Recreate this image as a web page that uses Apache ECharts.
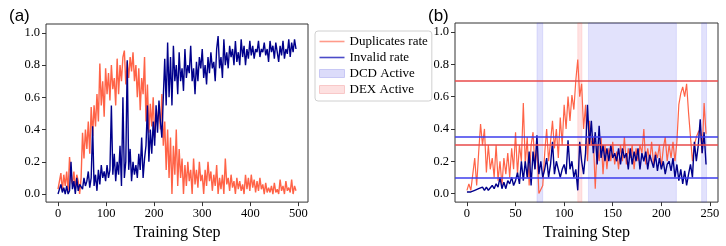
<!DOCTYPE html>
<html>
<head>
<meta charset="utf-8">
<script src="https://cdn.jsdelivr.net/npm/echarts@6/dist/echarts.min.js"></script>
<style>
  html, body { margin: 0; padding: 0; background: #fff; }
  #chart { width: 726px; height: 246px; }
</style>
</head>
<body>
<div id="chart"></div>
<script>
// panel (a): one value every 3 training steps
const stepA = 3
const dupA = [
  0.03, 0.03, 0.13, 0.02, 0.12, 0.05, 0.14, 0.02, 0.23, 0.10, 0.06, 0.14, 0.03, 0.12, 0.08, 0.00, 0.10,
  0.38, 0.22, 0.40, 0.28, 0.45, 0.25, 0.54, 0.36, 0.55, 0.42, 0.62, 0.45, 0.81, 0.55, 0.70, 0.48, 0.78,
  0.62, 0.75, 0.58, 0.80, 0.65, 0.72, 0.55, 0.84, 0.62, 0.80, 0.70, 0.85, 0.89, 0.68, 0.82, 0.72, 0.85,
  0.76, 0.88, 0.70, 0.80, 0.60, 0.78, 0.52, 0.72, 0.62, 0.85, 0.45, 0.68, 0.38, 0.56, 0.42, 0.60, 0.35,
  0.50, 0.45, 0.55, 0.40, 0.62, 0.30, 0.45, 0.15, 0.40, 0.10, 0.35, 0.00, 0.30, 0.12, 0.40, 0.05, 0.28,
  0.10, 0.22, 0.00, 0.18, 0.05, 0.20, 0.08, 0.15, 0.00, 0.22, 0.06, 0.15, 0.04, 0.20, 0.08, 0.12, 0.00,
  0.15, 0.05, 0.20, 0.08, 0.14, 0.02, 0.12, 0.05, 0.18, 0.00, 0.10, 0.03, 0.12, 0.00, 0.22, 0.06, 0.10,
  0.02, 0.12, 0.04, 0.08, 0.00, 0.10, 0.03, 0.08, 0.02, 0.06, 0.00, 0.12, 0.03, 0.10, 0.02, 0.12, 0.04,
  0.09, 0.01, 0.08, 0.02, 0.10, 0.03, 0.06, 0.00, 0.07, 0.01, 0.04, 0.01, 0.05, 0.00, 0.07, 0.01, 0.03,
  0.00, 0.09, 0.02, 0.05, 0.00, 0.08, 0.02, 0.04, 0.01, 0.09, 0.00, 0.05, 0.02
]
const invA = [
  0.00, 0.00, 0.06, 0.01, 0.04, 0.00, 0.05, 0.00, 0.02, 0.20, 0.03, 0.08, 0.00, 0.10, 0.02, 0.06, 0.05,
  0.03, 0.10, 0.05, 0.08, 0.14, 0.04, 0.10, 0.42, 0.05, 0.12, 0.02, 0.15, 0.06, 0.18, 0.10, 0.14, 0.08,
  0.18, 0.10, 0.15, 0.55, 0.12, 0.25, 0.08, 0.20, 0.12, 0.30, 0.05, 0.60, 0.10, 0.20, 0.83, 0.15, 0.28,
  0.08, 0.20, 0.12, 0.18, 0.10, 0.25, 0.15, 0.35, 0.10, 0.22, 0.30, 0.55, 0.20, 0.40, 0.25, 0.45, 0.30,
  0.55, 0.38, 0.58, 0.45, 0.35, 0.60, 0.84, 0.55, 0.94, 0.60, 0.85, 0.55, 0.92, 0.70, 0.80, 0.62, 0.88,
  0.70, 0.78, 0.64, 0.90, 0.72, 0.80, 0.75, 0.92, 0.70, 0.78, 0.62, 0.82, 0.70, 0.85, 0.78, 0.90, 0.72,
  0.80, 0.68, 0.85, 0.75, 0.88, 0.78, 0.82, 0.70, 0.90, 0.98, 0.78, 0.85, 0.72, 0.96, 0.80, 0.88, 0.78,
  0.92, 0.85, 0.90, 0.80, 0.95, 0.82, 0.88, 0.80, 0.96, 0.85, 0.92, 0.80, 0.90, 0.84, 0.95, 0.86, 0.92,
  0.84, 0.90, 0.88, 0.95, 0.85, 0.90, 0.88, 0.94, 0.86, 0.90, 0.82, 0.95, 0.88, 0.92, 0.84, 0.94, 0.88,
  0.82, 0.92, 0.86, 0.95, 0.84, 0.90, 0.87, 0.96, 0.85, 0.94, 0.88, 0.96, 0.90
]

// panel (b): one value every 2 training steps
const stepB = 2
const dupB = [
  0.02, 0.06, 0.02, 0.03, 0.22, 0.05, 0.25, 0.43, 0.30, 0.40, 0.13, 0.30, 0.15, 0.22, 0.10, 0.30,
  0.08, 0.20, 0.05, 0.22, 0.12, 0.25, 0.10, 0.28, 0.15, 0.38, 0.12, 0.30, 0.20, 0.56, 0.18, 0.35,
  0.05, 0.30, 0.38, 0.15, 0.30, 0.00, 0.00, 0.05, 0.25, 0.40, 0.20, 0.32, 0.45, 0.28, 0.40, 0.22,
  0.47, 0.30, 0.55, 0.40, 0.60, 0.45, 0.61, 0.52, 0.70, 0.83, 0.60, 0.68, 0.40, 0.55, 0.20, 0.45,
  0.30, 0.35, 0.03, 0.30, 0.20, 0.35, 0.12, 0.30, 0.15, 0.28, 0.20, 0.32, 0.18, 0.26, 0.15, 0.30,
  0.20, 0.35, 0.18, 0.28, 0.22, 0.30, 0.15, 0.28, 0.20, 0.30, 0.25, 0.40, 0.18, 0.28, 0.20, 0.32,
  0.18, 0.26, 0.22, 0.30, 0.16, 0.28, 0.35, 0.20, 0.30, 0.22, 0.32, 0.20, 0.32, 0.55, 0.62, 0.66,
  0.60, 0.68, 0.50, 0.35, 0.20, 0.30, 0.35, 0.38, 0.40, 0.25, 0.56, 0.37
]
const invB = [
  0.01, 0.00, 0.01, 0.00, 0.02, 0.01, 0.03, 0.02, 0.04, 0.02, 0.04, 0.02, 0.03, 0.05, 0.03, 0.06,
  0.04, 0.10, 0.03, 0.07, 0.03, 0.08, 0.06, 0.10, 0.05, 0.08, 0.13, 0.06, 0.20, 0.08, 0.20, 0.10,
  0.26, 0.05, 0.26, 0.15, 0.36, 0.12, 0.20, 0.10, 0.15, 0.22, 0.10, 0.18, 0.32, 0.12, 0.20, 0.15,
  0.10, 0.15, 0.18, 0.12, 0.33, 0.15, 0.20, 0.10, 0.15, 0.02, 0.32, 0.20, 0.12, 0.25, 0.55, 0.30,
  0.45, 0.25, 0.38, 0.18, 0.42, 0.22, 0.30, 0.20, 0.28, 0.20, 0.30, 0.22, 0.25, 0.20, 0.28, 0.18,
  0.28, 0.22, 0.25, 0.15, 0.28, 0.18, 0.26, 0.20, 0.28, 0.15, 0.25, 0.20, 0.26, 0.15, 0.24, 0.20,
  0.16, 0.24, 0.14, 0.22, 0.15, 0.20, 0.12, 0.18, 0.20, 0.14, 0.22, 0.10, 0.18, 0.08, 0.15, 0.06,
  0.14, 0.05, 0.12, 0.18, 0.10, 0.32, 0.20, 0.30, 0.46, 0.25, 0.38, 0.18
]

// switch-on periods and thresholds in panel (b)
const dcdSpans = [[72, 78], [125, 215.5], [241.5, 246.5]]
const dexSpans = [[114, 118.3]]
const dupThresholds = [0.7, 0.3]
const invThresholds = [0.35, 0.1]

const xTicksA = [0, 100, 200, 300, 400, 500]
const xTicksB = [0, 50, 100, 150, 200, 250]
const yTicks = [0, 0.2, 0.4, 0.6, 0.8, 1.0]

const DUP_COLOR = '#ff6347'
const INV_COLOR = '#00008b'
const SERIF = '"Liberation Serif", "DejaVu Serif", serif'

function toPairs(vals, step) {
  return vals.map((v, i) => [i * step, v])
}

function xAxis(gridIndex, min, max, ticks) {
  return {
    type: 'value', gridIndex, min, max,
    name: 'Training Step', nameLocation: 'middle', nameGap: 21,
    nameTextStyle: { fontFamily: SERIF, fontSize: 16, color: '#000' },
    axisLine: { show: false, onZero: false },
    axisTick: { show: true, inside: false, customValues: ticks, length: 4, lineStyle: { color: '#333' } },
    axisLabel: { customValues: ticks, fontFamily: SERIF, fontSize: 12.5, color: '#000', margin: 5 },
    splitLine: { show: false }
  }
}

function yAxis(gridIndex, min, max) {
  return {
    type: 'value', gridIndex, min, max,
    axisLine: { show: false, onZero: false },
    axisTick: { show: true, inside: false, customValues: yTicks, length: 4, lineStyle: { color: '#333' } },
    axisLabel: {
      customValues: yTicks, fontFamily: SERIF, fontSize: 12.5, color: '#000', margin: 6,
      formatter: v => v.toFixed(1)
    },
    splitLine: { show: false }
  }
}

function spanArea(spans) {
  return spans.map(s => [{ xAxis: s[0] }, { xAxis: s[1] }])
}

function hLines(vals) {
  return vals.map(v => ({ yAxis: v }))
}

const chart = echarts.init(document.getElementById('chart'), null, { renderer: 'canvas' })

const option = {
  animation: false,
  title: [
    { text: '(a)', left: 4, top: 3, textStyle: { fontFamily: 'Liberation Sans', fontSize: 17, fontWeight: 'normal', color: '#000' } },
    { text: '(b)', left: 423, top: 3, textStyle: { fontFamily: 'Liberation Sans', fontSize: 17, fontWeight: 'normal', color: '#000' } }
  ],
  grid: [
    { left: 46, top: 24, width: 262, height: 183, show: true, borderColor: '#333', borderWidth: 1, backgroundColor: 'transparent' },
    { left: 455, top: 23, width: 263, height: 183, show: true, borderColor: '#333', borderWidth: 1, backgroundColor: 'transparent' }
  ],
  xAxis: [
    xAxis(0, -25, 520, xTicksA),
    xAxis(1, -12.3, 258.3, xTicksB)
  ],
  yAxis: [
    yAxis(0, -0.05, 1.055),
    yAxis(1, -0.053, 1.056)
  ],
  legend: {
    orient: 'vertical', left: 315, top: 31,
    padding: [4, 4, 5, 4],
    itemWidth: 25, itemHeight: 8, itemGap: 3,
    borderColor: '#d0d0d0', borderWidth: 1, borderRadius: 3,
    textStyle: { fontFamily: SERIF, fontSize: 13, color: '#000' },
    data: [
      { name: 'Duplicates rate', icon: 'path://M0,0H25V1.6H0Z', itemStyle: { color: '#ff9a8a' } },
      { name: 'Invalid rate', icon: 'path://M0,0H25V1.6H0Z', itemStyle: { color: '#4b4bc8' } },
      { name: 'DCD Active', icon: 'rect', itemStyle: { color: '#dcdcfa', borderColor: '#c8c8f5', borderWidth: 1 } },
      { name: 'DEX Active', icon: 'rect', itemStyle: { color: '#fde0e0', borderColor: '#f8c8c8', borderWidth: 1 } }
    ]
  },
  series: [
    {
      name: 'Duplicates rate', type: 'line', xAxisIndex: 0, yAxisIndex: 0,
      data: toPairs(dupA, stepA), showSymbol: false, symbol: 'none',
      lineStyle: { color: DUP_COLOR, width: 1.4 }, itemStyle: { color: DUP_COLOR }
    },
    {
      name: 'Invalid rate', type: 'line', xAxisIndex: 0, yAxisIndex: 0,
      data: toPairs(invA, stepA), showSymbol: false, symbol: 'none',
      lineStyle: { color: INV_COLOR, width: 1.4 }, itemStyle: { color: INV_COLOR }
    },
    {
      name: 'DCD Active', type: 'line', xAxisIndex: 1, yAxisIndex: 1, data: [],
      itemStyle: { color: '#dcdcfa' },
      markArea: {
        silent: true,
        itemStyle: { color: 'rgba(60,60,235,0.15)', borderColor: 'rgba(60,60,235,0.12)', borderWidth: 1 },
        data: spanArea(dcdSpans)
      }
    },
    {
      name: 'DEX Active', type: 'line', xAxisIndex: 1, yAxisIndex: 1, data: [],
      itemStyle: { color: '#fde0e0' },
      markArea: {
        silent: true,
        itemStyle: { color: 'rgba(255,60,60,0.15)', borderColor: 'rgba(255,60,60,0.12)', borderWidth: 1 },
        data: spanArea(dexSpans)
      }
    },
    {
      name: 'Duplicates rate', type: 'line', xAxisIndex: 1, yAxisIndex: 1,
      data: toPairs(dupB, stepB), showSymbol: false, symbol: 'none',
      lineStyle: { color: DUP_COLOR, width: 1.2 }, itemStyle: { color: DUP_COLOR },
      markLine: {
        silent: true, symbol: 'none', label: { show: false },
        lineStyle: { color: '#e84a4a', type: 'solid', width: 1.5 },
        data: hLines(dupThresholds)
      }
    },
    {
      name: 'Invalid rate', type: 'line', xAxisIndex: 1, yAxisIndex: 1,
      data: toPairs(invB, stepB), showSymbol: false, symbol: 'none',
      lineStyle: { color: INV_COLOR, width: 1.4 }, itemStyle: { color: INV_COLOR },
      markLine: {
        silent: true, symbol: 'none', label: { show: false },
        lineStyle: { color: '#3c3cec', type: 'solid', width: 1.5 },
        data: hLines(invThresholds)
      }
    }
  ]
}

chart.setOption(option)
</script>
</body>
</html>
